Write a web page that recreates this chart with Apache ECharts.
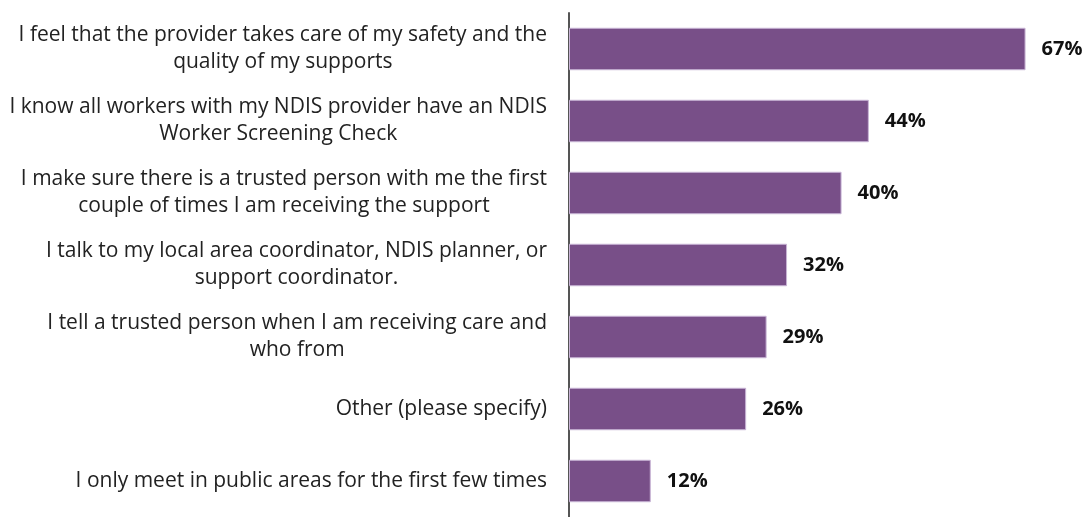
<!DOCTYPE html>
<html><head><meta charset="utf-8">
<script src="https://cdn.jsdelivr.net/npm/echarts@6/dist/echarts.min.js"></script>
<style>html,body{margin:0;padding:0;background:#fff}#c{width:1085px;height:517px}</style>
</head><body><div id="c"></div>
<script>
const categories = [
  "I feel that the provider takes care of my safety and the\nquality of my supports",
  "I know all workers with my NDIS provider have an NDIS\nWorker Screening Check",
  "I make sure there is a trusted person with me the first\ncouple of times I am receiving the support",
  "I talk to my local area coordinator, NDIS planner, or\nsupport coordinator.",
  "I tell a trusted person when I am receiving care and\nwho from",
  "Other (please specify)",
  "I only meet in public areas for the first few times"
];
const values = [67, 44, 40, 32, 29, 26, 12];

const chart = echarts.init(document.getElementById('c'));
chart.setOption({
  animation: false,
  grid: {left: 569, top: 13, width: 477, height: 511, containLabel: false},
  xAxis: {type: 'value', min: 0, max: 70, show: false},
  yAxis: {
    type: 'category', data: categories, inverse: true,
    axisLine: {show: true, lineStyle: {color: '#555555', width: 2}},
    axisTick: {show: false},
    axisLabel: {
      margin: 22,
      formatter: v => v.split('\n').map(s => '{c|' + s + '}').join('\n'),
      rich: {c: {align: 'center', fontFamily: 'Open Sans', fontSize: 21, lineHeight: 27, color: '#222'}}
    }
  },
  series: [{
    type: 'bar', data: values, barCategoryGap: '41%',
    itemStyle: {color: '#784F88', borderColor: '#C9B5D6', borderWidth: 1},
    label: {show: true, position: 'right', distance: 16, formatter: p => p.value + '%',
      fontFamily: 'Open Sans', fontWeight: 'bold', fontSize: 20, color: '#111'}
  }]
});
</script></body></html>
